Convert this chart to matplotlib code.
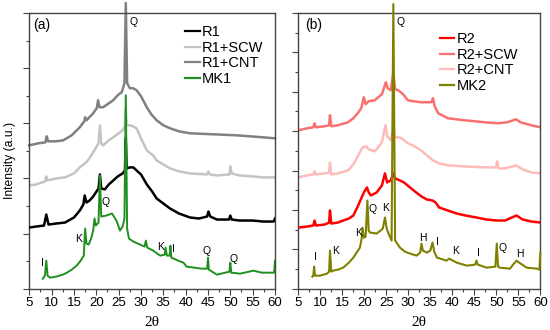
import matplotlib
matplotlib.use("Agg")
import matplotlib.pyplot as plt
from matplotlib.ticker import MultipleLocator

plt.rcParams['font.family'] = ['Liberation Sans', 'DejaVu Sans']

# ---------------- Panel (a) data ----------------
r1_x = [5, 6.5, 8.3, 8.8, 9.3, 11, 13, 15, 16.3, 17.1, 17.4, 17.8, 18.5, 19.3, 20.5, 20.8, 21.1, 21.9,
        22.8, 23.8, 24.8, 25.9, 26.4, 26.6, 26.8, 27.5, 28.3, 29, 30, 31.3, 32.5, 33.5, 35, 36.5, 38.5,
        41, 43, 44.8, 45.1, 45.5, 47, 49.7, 50, 50.3, 52, 55, 57.3, 59.7, 60]
r1_y = [61, 62, 63, 74, 64, 65, 66, 71, 78, 84, 93, 86, 88, 92, 100, 114, 100, 99,
        104, 108, 112, 115, 118, 150, 120, 121, 121, 118, 114, 104, 97, 90, 85, 80, 75,
        71, 70, 72, 77, 72, 69, 69, 73, 69, 68, 68, 67, 67, 70]

r1scw_x = [5, 6.5, 8.5, 8.8, 9.1, 11, 13, 15, 16.3, 17.5, 18.3, 19.3, 20.5, 20.8, 21.1, 21.5, 22.8, 23.8,
           25, 25.9, 26.4, 26.6, 26.8, 27.5, 28.2, 29, 30, 31.3, 32.7, 33.5, 35, 36.5, 38.5, 41, 44.8,
           45.1, 45.4, 47, 49.8, 50, 50.3, 52, 55, 57.3, 60]
r1scw_y = [103, 104, 107, 112, 108, 110, 111, 115, 121, 125, 129, 136, 145, 163, 145, 143, 148, 151,
           155, 158, 162, 180, 163, 163, 162, 160, 150, 138, 133, 128, 124, 120, 117, 115, 114,
           117, 114, 113, 114, 122, 115, 113, 112, 111, 111]

r1cnt_x = [5, 7, 8.6, 8.9, 9.2, 11, 12.6, 14.5, 16.3, 17.3, 17.5, 17.8, 19.3, 20.1, 20.4, 20.7, 21.5,
           22.5, 23.8, 24.8, 25.7, 26.3, 26.6, 26.9, 27.5, 28.2, 29, 30, 31.3, 32.3, 33.5, 35, 36.5,
           38.5, 41, 46.2, 51.4, 57.3, 60]
r1cnt_y = [143, 145, 146, 152, 147, 147, 148, 153, 161, 167, 171, 168, 175, 180, 188, 181, 181,
           184, 188, 193, 196, 205, 285, 205, 200, 200, 198, 192, 181, 174, 168, 163, 160,
           157, 155, 154, 153, 151, 150]

mk1_x = [8.0, 8.5, 8.8, 9.1, 9.6, 11, 12.5, 13.4, 14.5, 15.6, 16.5, 17.2, 17.5, 17.8, 18.3, 18.9, 19.3,
         19.6, 19.9, 20.5, 20.8, 21.1, 22.3, 23.5, 24.5, 25.3, 25.9, 26.3, 26.6, 26.9, 27.3, 28.3, 29.8,
         30.8, 31.1, 31.4, 32.7, 34.3, 35.3, 35.5, 35.8, 36.4, 36.6, 36.8, 38.3, 39.5, 40.2, 42, 43.5,
         44.8, 45, 45.2, 47, 49.8, 50, 50.2, 52.2, 55.2, 57, 59.8, 60]
mk1_y = [10, 13, 28, 13, 11, 12, 14, 16, 19, 23, 28, 33, 60, 45, 44, 51, 58,
         70, 63, 66, 113, 72, 73, 75, 68, 58, 62, 70, 193, 60, 50, 47, 44,
         42, 48, 41, 38, 33, 34, 41, 33, 33, 43, 31, 28, 26, 22, 21, 20,
         20, 31, 19, 14, 17, 26, 16, 15, 18, 16, 16, 28]

# ---------------- Panel (b) data ----------------
r2_x = [5, 7, 8.4, 8.7, 9.0, 11, 12.0, 12.2, 12.5, 14, 15.2, 16.5, 17.5, 18.5, 19.3, 19.9, 20.6, 21.0,
        21.5, 22.8, 24, 24.7, 25.2, 26, 26.6, 27, 28.1, 29, 30.4, 31.5, 33, 34.2, 35.5, 36.2, 37, 39,
        41, 43, 45.5, 47.8, 50.1, 52, 53.5, 54.6, 56, 58, 60]
r2_y = [61, 62, 63, 68, 63, 64, 66, 78, 65, 66, 68, 70, 73, 82, 90, 96, 101, 96,
        93, 96, 103, 115, 106, 108, 115, 110, 108, 106, 101, 97, 92, 89, 88, 86, 81, 78,
        75, 73, 71, 69, 68, 68, 71, 73, 69, 67, 66]

r2scw_x = [5, 7, 8.4, 8.7, 9.0, 11, 12.0, 12.2, 12.5, 14, 16.3, 17.5, 18.5, 19.3, 19.9, 20.3, 21, 22.4,
           24, 24.9, 25.3, 26, 26.6, 27, 27.7, 28.8, 29.9, 31, 32.9, 35.3, 35.6, 36.0, 36.8, 39, 42.8,
           47.4, 50.4, 52.5, 54.5, 55.5, 58, 60]
r2scw_y = [158, 160, 161, 165, 161, 162, 163, 173, 162, 163, 166, 170, 175, 180, 191, 184, 187, 188,
           194, 206, 200, 198, 215, 199, 198, 194, 188, 187, 186, 186, 190, 182, 175, 170, 168,
           166, 165, 166, 169, 166, 163, 161]

r2cnt_x = [5, 7, 8.4, 8.7, 9.0, 11, 12.0, 12.2, 12.5, 14, 16.3, 17.5, 18.5, 19.6, 20.5, 21, 22.4, 24,
           24.8, 25.2, 26, 26.6, 27, 27.7, 28.5, 29.9, 31, 32.9, 34.5, 35.6, 37, 39, 42.8, 47.4, 49.9,
           50.2, 50.5, 52, 54.5, 56, 58, 60]
r2cnt_y = [111, 113, 114, 117, 114, 115, 116, 126, 114, 115, 118, 124, 132, 141, 142, 139, 137, 146,
           163, 152, 148, 160, 151, 151, 150, 145, 143, 138, 132, 128, 125, 123, 122, 121, 121,
           127, 120, 120, 123, 119, 116, 115]

mk2_x = [8.2, 8.4, 8.6, 8.8, 9.9, 11.5, 12.0, 12.2, 12.5, 12.9, 14, 15.2, 16.5, 17.5, 19, 19.4, 19.6,
         19.9, 20.3, 20.7, 21.0, 21.3, 22.8, 23.7, 24.2, 24.7, 25.1, 25.5, 26.2, 26.6, 27, 28.1, 29.2,
         30.4, 31.9, 32.7, 33, 33.3, 34.2, 35, 35.5, 35.9, 36.5, 38.7, 39.3, 41, 43.3, 45.2, 45.5,
         45.8, 47.8, 49.8, 50.1, 50.4, 50.8, 53.1, 54, 54.6, 55.2, 56.9, 59.2, 59.8, 60]
mk2_y = [12, 13, 22, 13, 13, 15, 17, 38, 17, 18, 19, 21, 26, 31, 41, 50, 61,
         51, 52, 88, 58, 56, 55, 58, 60, 71, 60, 55, 48, 284, 48, 41, 37,
         35, 33, 36, 45, 38, 36, 38, 46, 37, 31, 28, 30, 26, 23, 24, 28,
         24, 21, 22, 45, 22, 21, 20, 25, 28, 26, 21, 20, 19, 36]

# annotations: (text, x, y)
ann_a = [("Q", 28.4, 266), ("I", 8.0, 26), ("K", 16.1, 50), ("Q", 22.0, 86), ("K", 34.3, 42),
         ("I", 37.2, 40), ("Q", 44.6, 38), ("Q", 50.7, 30)]
ann_b = [("Q", 28.3, 266), ("I", 8.9, 32), ("K", 13.5, 38), ("K", 18.6, 56), ("Q", 21.9, 79),
         ("K", 24.9, 80), ("H", 33.3, 51), ("I", 36.7, 47), ("K", 40.8, 38), ("I", 45.9, 36),
         ("Q", 51.4, 41), ("H", 55.4, 35)]

xticks = [5, 10, 15, 20, 25, 30, 35, 40, 45, 50, 55, 60]

fig = plt.figure(figsize=(5.5, 3.3), dpi=100)
axA = fig.add_axes([29.3 / 550, 41.3 / 330, 245.7 / 550, 275.7 / 330])
axB = fig.add_axes([298.3 / 550, 41.3 / 330, 242.0 / 550, 275.7 / 330])

spine_c = '#444444'

def style(ax, major, minor):
    ax.set_xlim(5, 60)
    ax.set_ylim(0, 275)
    ax.set_xticks(xticks)
    ax.set_xticklabels([str(t) for t in xticks], fontsize=9.5)
    ax.xaxis.set_minor_locator(MultipleLocator(2.5))
    ax.yaxis.set_major_locator(MultipleLocator(major))
    ax.yaxis.set_minor_locator(MultipleLocator(minor))
    ax.tick_params(axis='both', which='major', direction='out', length=4, width=0.8,
                   color=spine_c, pad=2)
    ax.tick_params(axis='both', which='minor', direction='out', length=2.5, width=0.8,
                   color=spine_c)
    ax.tick_params(axis='y', which='both', labelleft=False)
    for s in ax.spines.values():
        s.set_color(spine_c)
        s.set_linewidth(1.0)
    ax.set_xlabel("2θ", fontsize=11, family=['Liberation Serif', 'DejaVu Serif'], labelpad=5)

style(axA, 55, 27.5)
style(axB, 275 / 7, 275 / 14)

lw = 1.8
axA.plot(r1cnt_x, r1cnt_y, color='#808080', lw=lw, zorder=2, clip_on=False, label='R1+CNT')
axA.plot(r1scw_x, r1scw_y, color='#c4c4c4', lw=lw, zorder=2, label='R1+SCW')
axA.plot(r1_x, r1_y, color='black', lw=lw, zorder=3, label='R1')
axA.plot(mk1_x, mk1_y, color='#1f8f1f', lw=1.4, zorder=4, label='MK1')

axB.plot(r2scw_x, r2scw_y, color='#f87070', lw=lw, zorder=2, label='R2+SCW')
axB.plot(r2cnt_x, r2cnt_y, color='#ffbaba', lw=lw, zorder=2, label='R2+CNT')
axB.plot(r2_x, r2_y, color='#ff0000', lw=lw, zorder=3, label='R2')
axB.plot(mk2_x, mk2_y, color='#808000', lw=1.5, zorder=4, clip_on=False, label='MK2')

def legend(ax, order, x, y):
    h, l = ax.get_legend_handles_labels()
    d = dict(zip(l, h))
    lg = ax.legend([d[k] for k in order], order, loc='upper left', bbox_to_anchor=(x, y),
                   frameon=False, fontsize=10.5, handlelength=1.0, handletextpad=0.15,
                   labelspacing=0.1, borderpad=0, borderaxespad=0)
    for line in lg.get_lines():
        line.set_linewidth(1.6)

legend(axA, ['R1', 'R1+SCW', 'R1+CNT', 'MK1'], 0.634, 0.955)
legend(axB, ['R2', 'R2+SCW', 'R2+CNT', 'MK2'], 0.585, 0.93)

axA.text(0.015, 0.956, "(a)", transform=axA.transAxes, fontsize=10, va='center', ha='left')
axB.text(0.028, 0.956, "(b)", transform=axB.transAxes, fontsize=10, va='center', ha='left')

for ax, ann in ((axA, ann_a), (axB, ann_b)):
    for t, x, y in ann:
        ax.text(x, y, t, fontsize=7.5, ha='center', va='center', zorder=5)

fig.text(10 / 550, 1 - 160 / 330, "Intensity (a.u.)", rotation=90, fontsize=8.7,
         ha='center', va='center')

fig.savefig("out.png", dpi=100)
